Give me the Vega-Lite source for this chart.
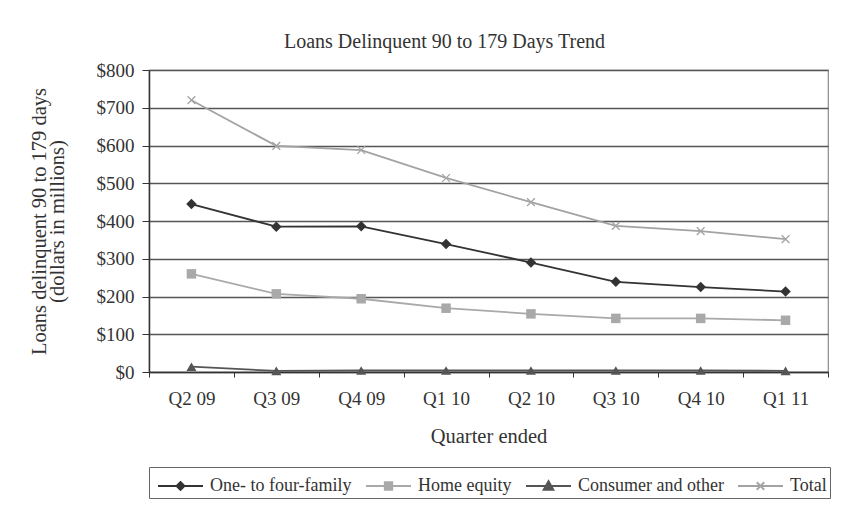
{
  "$schema": "https://vega.github.io/schema/vega-lite/v6.json",
  "width": 679,
  "height": 302,
  "autosize": "none",
  "padding": {"left": 149, "top": 70, "right": 37, "bottom": 151},
  "background": "white",
  "title": {"text": "Loans Delinquent 90 to 179 Days Trend", "font": "Liberation Serif", "fontSize": 20, "fontWeight": "normal", "color": "#333333", "offset": 9, "dx": -44},
  "config": {
    "view": {"stroke": "#8a8a8a", "strokeWidth": 1.2},
    "axis": {"labelFont": "Liberation Serif", "titleFont": "Liberation Serif", "labelFontSize": 19, "titleFontSize": 20.5, "labelColor": "#333333", "titleColor": "#333333", "titleFontWeight": "normal", "domainColor": "#333333", "tickColor": "#333333"},
    "legend": {"labelFont": "Liberation Serif", "labelFontSize": 18, "labelColor": "#333333"}
  },
  "data": {"values": [
    {"quarter": "Q2 09", "series": "One- to four-family", "value": 445},
    {"quarter": "Q3 09", "series": "One- to four-family", "value": 385},
    {"quarter": "Q4 09", "series": "One- to four-family", "value": 386},
    {"quarter": "Q1 10", "series": "One- to four-family", "value": 339},
    {"quarter": "Q2 10", "series": "One- to four-family", "value": 290},
    {"quarter": "Q3 10", "series": "One- to four-family", "value": 239},
    {"quarter": "Q4 10", "series": "One- to four-family", "value": 225},
    {"quarter": "Q1 11", "series": "One- to four-family", "value": 213},
    {"quarter": "Q2 09", "series": "Home equity", "value": 260},
    {"quarter": "Q3 09", "series": "Home equity", "value": 207},
    {"quarter": "Q4 09", "series": "Home equity", "value": 194},
    {"quarter": "Q1 10", "series": "Home equity", "value": 169},
    {"quarter": "Q2 10", "series": "Home equity", "value": 154},
    {"quarter": "Q3 10", "series": "Home equity", "value": 142},
    {"quarter": "Q4 10", "series": "Home equity", "value": 142},
    {"quarter": "Q1 11", "series": "Home equity", "value": 137},
    {"quarter": "Q2 09", "series": "Consumer and other", "value": 14},
    {"quarter": "Q3 09", "series": "Consumer and other", "value": 3},
    {"quarter": "Q4 09", "series": "Consumer and other", "value": 4},
    {"quarter": "Q1 10", "series": "Consumer and other", "value": 4},
    {"quarter": "Q2 10", "series": "Consumer and other", "value": 4},
    {"quarter": "Q3 10", "series": "Consumer and other", "value": 4},
    {"quarter": "Q4 10", "series": "Consumer and other", "value": 4},
    {"quarter": "Q1 11", "series": "Consumer and other", "value": 3},
    {"quarter": "Q2 09", "series": "Total", "value": 720},
    {"quarter": "Q3 09", "series": "Total", "value": 599},
    {"quarter": "Q4 09", "series": "Total", "value": 588},
    {"quarter": "Q1 10", "series": "Total", "value": 514},
    {"quarter": "Q2 10", "series": "Total", "value": 450},
    {"quarter": "Q3 10", "series": "Total", "value": 387},
    {"quarter": "Q4 10", "series": "Total", "value": 373},
    {"quarter": "Q1 11", "series": "Total", "value": 352}
  ]},
  "encoding": {
    "x": {"field": "quarter", "type": "ordinal", "bandPosition": 0.5,
      "scale": {"type": "band", "paddingInner": 0, "paddingOuter": 0, "domain": ["Q2 09", "Q3 09", "Q4 09", "Q1 10", "Q2 10", "Q3 10", "Q4 10", "Q1 11"]},
      "axis": {"title": "Quarter ended", "labelAngle": 0, "tickBand": "extent", "tickSize": 5, "labelPadding": 12, "titlePadding": 18, "grid": false, "domainWidth": 1.5}},
    "y": {"field": "value", "type": "quantitative",
      "scale": {"domain": [0, 800], "nice": false},
      "axis": {"title": ["Loans delinquent 90 to 179 days", "(dollars in millions)"], "titleLineHeight": 18, "values": [0, 100, 200, 300, 400, 500, 600, 700, 800], "format": "$,d", "tickSize": 7, "labelPadding": 8, "titlePadding": 29, "grid": true, "gridColor": "#555555", "gridWidth": 1.3, "domainWidth": 1.5}}
  },
  "layer": [
    {"mark": {"type": "line", "strokeWidth": 1.8},
     "encoding": {
       "color": {"field": "series", "type": "nominal",
         "scale": {"domain": ["One- to four-family", "Home equity", "Consumer and other", "Total"], "range": ["#333333", "#a9a9a9", "#555555", "#a3a3a3"]},
         "legend": {"title": null, "orient": "bottom", "direction": "horizontal", "offset": 20, "padding": 3, "strokeColor": "#666666", "columnPadding": 8, "labelOffset": 26, "symbolSize": 900,
           "encode": {"symbols": {"update": {
             "shape": {"signal": "datum.value === 'One- to four-family' ? 'M-0.667,0L2.333,0M0.833,-0.27L1.103,0L0.833,0.27L0.563,0Z' : datum.value === 'Home equity' ? 'M-0.667,0L2.333,0M0.583,-0.25L1.083,-0.25L1.083,0.25L0.583,0.25Z' : datum.value === 'Consumer and other' ? 'M-0.667,0L2.333,0M0.833,-0.33L1.163,0.25L0.503,0.25Z' : 'M-0.667,0L2.333,0M0.583,-0.25L1.083,0.25M0.583,0.25L1.083,-0.25'"},
             "fill": {"signal": "scale('color', datum.value)"},
             "stroke": {"signal": "scale('color', datum.value)"},
             "strokeWidth": {"value": 1.8},
             "size": {"value": 900},
             "opacity": {"value": 1}
           }}}}}
     }},
    {"transform": [{"filter": "datum.series === 'One- to four-family'"}],
     "mark": {"type": "point", "shape": "diamond", "filled": true, "opacity": 1, "size": 110, "color": "#333333"}},
    {"transform": [{"filter": "datum.series === 'Home equity'"}],
     "mark": {"type": "point", "shape": "square", "filled": true, "opacity": 1, "size": 90, "color": "#a9a9a9"}},
    {"transform": [{"filter": "datum.series === 'Consumer and other'"}],
     "mark": {"type": "point", "shape": "triangle-up", "filled": true, "opacity": 1, "size": 100, "color": "#555555"}},
    {"transform": [{"filter": "datum.series === 'Total'"}],
     "mark": {"type": "point", "shape": "M-1,-1L1,1M-1,1L1,-1", "filled": false, "opacity": 1, "size": 60, "strokeWidth": 1.3, "color": "#a3a3a3"}}
  ]
}
